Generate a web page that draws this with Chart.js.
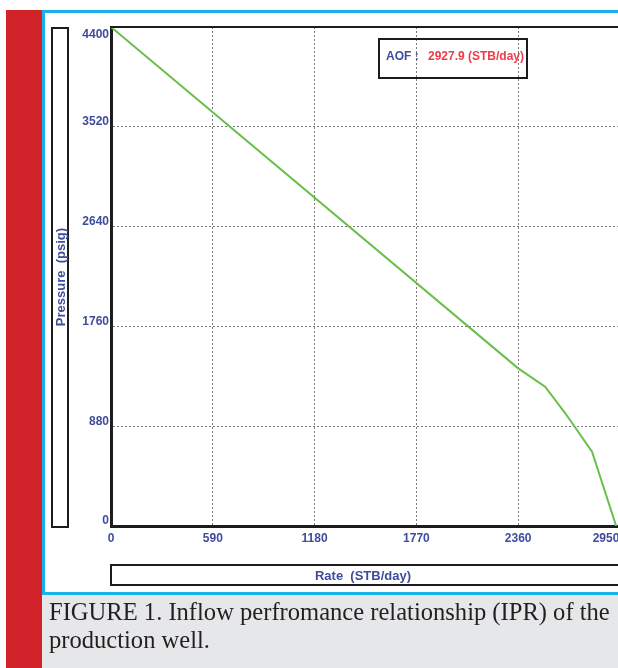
<!DOCTYPE html>
<html>
<head>
<meta charset="utf-8">
<script src="https://cdn.jsdelivr.net/npm/chart.js@4.4.1/dist/chart.umd.min.js"></script>
<style>
  html, body { margin: 0; padding: 0; width: 618px; height: 668px; overflow: hidden; background: #fff; }
  .abs { position: absolute; }
  #red { left: 6px; top: 10px; width: 36px; height: 658px; background: #d2232a; }
  #panel { left: 42px; top: 10px; width: 620px; height: 585px; box-sizing: border-box;
           border: 3px solid #1ab0e8; border-right: none; background: #fff; }
  #caption { left: 42px; top: 595px; width: 576px; height: 73px; background: #e6e7e8; }
  .cap { position: absolute; left: 7px; white-space: nowrap; color: #231f20;
         font-family: "Liberation Serif", "DejaVu Serif", serif; font-size: 20px; line-height: 28px; }
  #chart { left: 45px; top: 13px; }
  .lbl { font-family: "Liberation Sans", Arial, sans-serif; font-weight: bold; font-size: 12px; }
  .ttl { font-size: 13px; }
  .box { position: absolute; box-sizing: border-box; border: 2px solid #1c1c1c; }
  #ybox { left: 51px; top: 27px; width: 18px; height: 501px; }
  #ytitle { position: absolute; left: 60px; top: 277px; transform: translate(-50%, -50%) rotate(-90deg);
            white-space: nowrap; color: #3e4c9e; }
  #xbox { left: 110px; top: 564px; width: 520px; height: 22px; }
  #xtitle { position: absolute; left: 363px; top: 575px; transform: translate(-50%, -50%);
            white-space: nowrap; color: #3e4c9e; }
  #aof { left: 378px; top: 38px; width: 150px; height: 41px; }
  #aofkey { position: absolute; left: 386px; top: 49px; color: #3e4c9e; white-space: nowrap; }
  #aofval { position: absolute; left: 428px; top: 49px; color: #ee3b4a; white-space: nowrap; }
</style>
</head>
<body>
<div id="red" class="abs"></div>
<div id="panel" class="abs"></div>
<canvas id="chart" class="abs" width="580" height="577"></canvas>
<div id="ybox" class="box"></div>
<div id="ytitle" class="lbl ttl">Pressure&nbsp;&nbsp;(psig)</div>
<div id="xbox" class="box"></div>
<div id="xtitle" class="lbl ttl">Rate&nbsp;&nbsp;(STB/day)</div>
<div id="aof" class="box"></div>
<div id="aofkey" class="lbl">AOF :</div>
<div id="aofval" class="lbl">2927.9 (STB/day)</div>
<div id="caption" class="abs">
  <div class="cap" id="cap1" style="top:3px">FIGURE 1. Inflow perfromance relationship (IPR) of the</div>
  <div class="cap" id="cap2" style="top:31px">production well.</div>
</div>
<script>
// IPR curve
const rates = [0, 2360, 2516, 2633, 2788, 2927.9];
const pressures = [4400, 1390, 1228, 994, 655, 0];
const rateTicks = [0, 590, 1180, 1770, 2360, 2950];
const pressureTicks = [0, 880, 1760, 2640, 3520, 4400];

// fit caption line to the width it has in the figure
const cap1 = document.getElementById("cap1");
const fs = 20 * 561 / cap1.getBoundingClientRect().width;
document.querySelectorAll(".cap").forEach((el) => (el.style.fontSize = fs + "px"));

const tickFont = { family: "'Liberation Sans', Arial, sans-serif", size: 12, weight: "bold" };
const tickColor = "#3e4c9e";
const gridColor = "#7a7a7a";

// the original software keeps edge labels inside the plot
const labelNudge = {
  id: "labelNudge",
  beforeDraw(chart) {
    chart.scales.y.getLabelItems().forEach((it) => {
      if (it.label === "4400") it.options.translation[1] += 13;
    });
    chart.scales.x.getLabelItems().forEach((it) => {
      if (it.label === "2950") it.options.translation[0] -= 14;
    });
  },
};

const topFrame = {
  id: "topFrame",
  afterDraw(chart) {
    const { ctx, chartArea } = chart;
    ctx.save();
    ctx.strokeStyle = "#1c1c1c";
    ctx.lineWidth = 2;
    ctx.beginPath();
    ctx.moveTo(chartArea.left, chartArea.top);
    ctx.lineTo(chartArea.right, chartArea.top);
    ctx.stroke();
    ctx.restore();
  },
};

new Chart(document.getElementById("chart").getContext("2d"), {
  type: "line",
  data: {
    datasets: [
      {
        label: "IPR",
        data: rates.map((r, i) => ({ x: r, y: pressures[i] })),
        borderColor: "#6abf4b",
        borderWidth: 2,
        pointRadius: 0,
        tension: 0,
      },
    ],
  },
  options: {
    responsive: false,
    animation: false,
    devicePixelRatio: 1,
    layout: { padding: { left: 0, top: 14, right: 5, bottom: 0 } },
    plugins: { legend: { display: false }, tooltip: { enabled: false } },
    scales: {
      x: {
        type: "linear",
        min: 0,
        max: 2950,
        afterBuildTicks: (s) => (s.ticks = rateTicks.map((v) => ({ value: v }))),
        afterFit: (s) => {
          s.height = 64;
          s.paddingLeft = 0;
          s.paddingRight = 0;
        },
        ticks: { autoSkip: false, maxRotation: 0, padding: 5, color: tickColor, font: tickFont, callback: (v) => String(v) },
        grid: {
          drawTicks: false,
          color: (c) => (c.tick && (c.tick.value === 0 || c.tick.value === 2950) ? "rgba(0,0,0,0)" : gridColor),
        },
        border: { color: "#1c1c1c", width: 3, dash: [2, 2] },
      },
      y: {
        type: "linear",
        min: 0,
        max: 4400,
        afterBuildTicks: (s) => (s.ticks = pressureTicks.map((v) => ({ value: v }))),
        afterFit: (s) => {
          s.width = 66;
          s.paddingTop = 0;
          s.paddingBottom = 0;
        },
        ticks: { autoSkip: false, padding: 2, labelOffset: -5, color: tickColor, font: tickFont, callback: (v) => String(v) },
        grid: {
          drawTicks: false,
          color: (c) => (c.tick && (c.tick.value === 0 || c.tick.value === 4400) ? "rgba(0,0,0,0)" : gridColor),
        },
        border: { color: "#1c1c1c", width: 3, dash: [2, 2] },
      },
    },
  },
  plugins: [labelNudge, topFrame],
});
</script>
</body>
</html>
